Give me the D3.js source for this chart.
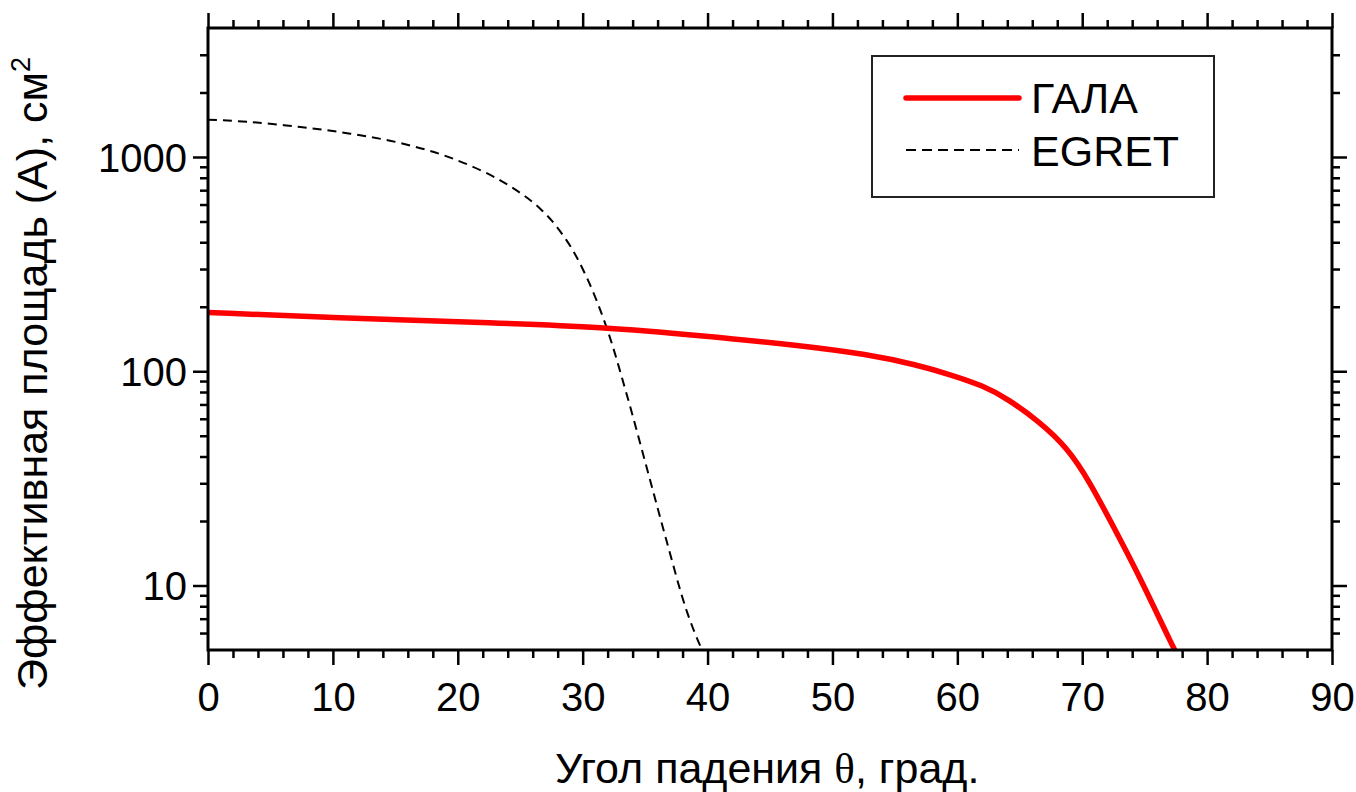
<!DOCTYPE html>
<html>
<head>
<meta charset="utf-8">
<script src="https://cdn.jsdelivr.net/npm/d3@7"></script>
<style>
  html, body { margin: 0; padding: 0; background: #fff; }
  svg { display: block; font-family: "Liberation Sans", Arial, sans-serif; }
</style>
</head>
<body>
<svg id="chart" width="1356" height="792"></svg>
<script>
// ---- data ----
const galaAngle = [0, 10, 23.4, 31.4, 39.4, 47.4, 52.8, 56.8, 59.4, 62.1, 64.0, 66.6, 68.8, 70.6, 72.5, 74.6, 77.3, 78];
const galaArea  = [188, 178, 168, 161, 147, 132, 120, 107, 96.5, 85.5, 74.5, 58, 44, 30.5, 18.8, 11.0, 5.1, 4.3];
const egretAngle = [0, 3.4, 7.4, 11.4, 15.4, 19.4, 23.4, 26.6, 28.7, 30.3, 31.9, 33.5, 35.1, 36.7, 38.3, 39.5, 40];
const egretArea  = [1494, 1456, 1380, 1285, 1162, 993, 778, 574, 409, 276, 161, 79, 36, 16.3, 7.7, 5.1, 4.5];
const xMajorTicks = [0, 10, 20, 30, 40, 50, 60, 70, 80, 90];
const yMajorTicks = [10, 100, 1000];
const seriesNames = ["ГАЛА", "EGRET"];
const xTitle = "Угол падения θ, град.";
const yTitle = "Эффективная площадь (А), см";

// ---- layout ----
const svg = d3.select("#chart");
const L = 208, R = 1332, T = 28, B = 650;
const x = d3.scaleLinear().domain([0, 90]).range([L, R]);
const y = d3.scaleLog().domain([5, 4000]).range([B, T]);

const xMinor = d3.range(0, 91, 2).filter(v => !xMajorTicks.includes(v));
const yMinor = y.ticks().filter(v => !yMajorTicks.includes(v) && v > 5 && v < 4000);

function styleAxis(g, w) {
  g.select(".domain").remove();
  g.selectAll(".tick line").attr("stroke", "#000").attr("stroke-width", w);
  g.selectAll(".tick text").attr("fill", "#000").style("font-size", "40px")
   .style("font-family", '"Liberation Sans", Arial, sans-serif');
}

// clip
svg.append("defs").append("clipPath").attr("id", "clip")
  .append("rect").attr("x", L).attr("y", T).attr("width", R - L).attr("height", B - T);

// axes: bottom
const gB = svg.append("g").attr("transform", `translate(0,${B})`)
  .call(d3.axisBottom(x).tickValues(xMajorTicks).tickSize(15).tickSizeOuter(0).tickPadding(18).tickFormat(d3.format("d")));
styleAxis(gB, 2.5);
svg.append("g").attr("transform", `translate(0,${B})`)
  .call(d3.axisBottom(x).tickValues(xMinor).tickSize(8).tickSizeOuter(0).tickFormat(""))
  .call(g => styleAxis(g, 2.5));
// top
svg.append("g").attr("transform", `translate(0,${T})`)
  .call(d3.axisTop(x).tickValues(xMajorTicks).tickSize(15).tickSizeOuter(0).tickFormat(""))
  .call(g => styleAxis(g, 2.5));
svg.append("g").attr("transform", `translate(0,${T})`)
  .call(d3.axisTop(x).tickValues(xMinor).tickSize(8).tickSizeOuter(0).tickFormat(""))
  .call(g => styleAxis(g, 2.5));
// left
const gL = svg.append("g").attr("transform", `translate(${L},0)`)
  .call(d3.axisLeft(y).tickValues(yMajorTicks).tickSize(15).tickSizeOuter(0).tickPadding(6).tickFormat(d3.format("d")));
styleAxis(gL, 2.5);
gL.selectAll(".tick text").attr("dy", "0.36em");
svg.append("g").attr("transform", `translate(${L},0)`)
  .call(d3.axisLeft(y).tickValues(yMinor).tickSize(8).tickSizeOuter(0).tickFormat(""))
  .call(g => styleAxis(g, 2.5));
// right
svg.append("g").attr("transform", `translate(${R},0)`)
  .call(d3.axisRight(y).tickValues(yMajorTicks).tickSize(15).tickSizeOuter(0).tickFormat(""))
  .call(g => styleAxis(g, 2.5));
svg.append("g").attr("transform", `translate(${R},0)`)
  .call(d3.axisRight(y).tickValues(yMinor).tickSize(8).tickSizeOuter(0).tickFormat(""))
  .call(g => styleAxis(g, 2.5));

// lines
const egretLine = d3.line().x(d => x(d[0])).y(d => y(d[1])).curve(d3.curveCatmullRom.alpha(0.5));
const galaLine = d3.line().x(d => x(d[0])).y(d => y(d[1])).curve(d3.curveBasis);
const plot = svg.append("g").attr("clip-path", "url(#clip)");
plot.append("path")
  .datum(egretAngle.map((a, i) => [a, egretArea[i]]))
  .attr("d", egretLine).attr("fill", "none").attr("stroke", "#000")
  .attr("stroke-width", 2).attr("stroke-dasharray", "9,6");
plot.append("path")
  .datum(galaAngle.map((a, i) => [a, galaArea[i]]))
  .attr("d", galaLine).attr("fill", "none").attr("stroke", "#ff0000")
  .attr("stroke-width", 5.5);

// frame
svg.append("rect").attr("x", L).attr("y", T).attr("width", R - L).attr("height", B - T)
  .attr("fill", "none").attr("stroke", "#000").attr("stroke-width", 3);

// legend
const lg = svg.append("g");
lg.append("rect").attr("x", 872).attr("y", 56).attr("width", 342).attr("height", 141)
  .attr("fill", "#fff").attr("stroke", "#222").attr("stroke-width", 2);
lg.append("line").attr("x1", 906).attr("x2", 1019).attr("y1", 98).attr("y2", 98)
  .attr("stroke", "#ff0000").attr("stroke-width", 5.5).attr("stroke-linecap", "round");
lg.append("line").attr("x1", 906).attr("x2", 1019).attr("y1", 150).attr("y2", 150)
  .attr("stroke", "#000").attr("stroke-width", 2).attr("stroke-dasharray", "10,6");
lg.append("text").attr("x", 1031).attr("y", 113).text(seriesNames[0])
  .style("font-size", "43px").attr("fill", "#000");
lg.append("text").attr("x", 1031).attr("y", 166).text(seriesNames[1])
  .style("font-size", "43px").attr("fill", "#000");

// axis titles
const xt = svg.append("text").attr("x", 555).attr("y", 783)
  .style("font-size", "43px").attr("fill", "#000");
xt.append("tspan").text("Угол падения ");
xt.append("tspan").text("θ").style("font-family", '"Liberation Serif", serif');
xt.append("tspan").text(", град.");

const yt = svg.append("text").attr("transform", "translate(47,690) rotate(-90)")
  .attr("x", 0).attr("y", 0).style("font-size", "43px").attr("fill", "#000");
yt.append("tspan").text(yTitle);
yt.append("tspan").text("2").attr("dy", -17).style("font-size", "27px");
</script>
</body>
</html>
